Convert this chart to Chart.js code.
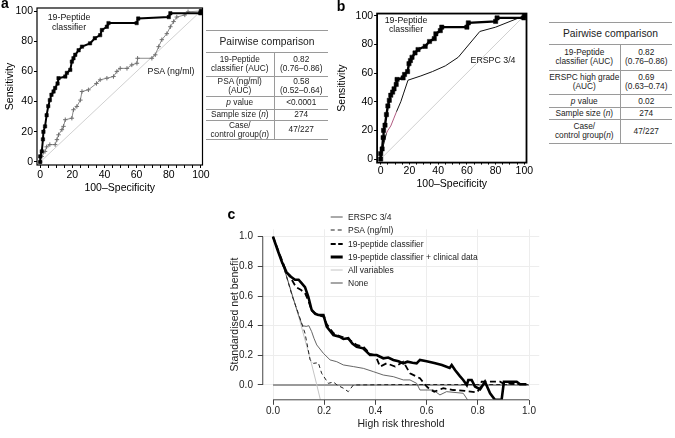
<!DOCTYPE html>
<html><head><meta charset="utf-8">
<script src="https://cdn.jsdelivr.net/npm/chart.js@4.4.1/dist/chart.umd.min.js"></script>
<style>
html,body{margin:0;padding:0;background:#fff;}
body{width:675px;height:438px;position:relative;overflow:hidden;font-family:'Liberation Sans',Arial,Helvetica,sans-serif;color:#111;}
canvas{position:absolute;}
.lbl{position:absolute;transform:translate(-50%,-50%);white-space:nowrap;text-align:center;}
.pl{position:absolute;transform:translate(-50%,-50%);font-weight:bold;font-size:14px;line-height:14px;color:#000;}
table.pw{position:absolute;border-collapse:collapse;table-layout:fixed;font-size:8.3px;line-height:9px;color:#222;}
table.pw td,table.pw th{padding:0;text-align:center;vertical-align:middle;white-space:nowrap;overflow:visible;border-top:1px solid #9a9a9a;border-bottom:1px solid #9a9a9a;}
table.pw th{font-weight:normal;font-size:10.3px;}
table.pw td:first-child{border-right:1px solid #9a9a9a;}
#legC{position:absolute;left:330px;top:210.7px;font-size:8.5px;color:#222;}
#legC div{height:13.15px;display:flex;align-items:center;white-space:nowrap;}
#legC svg{flex:none;}
#legC span{margin-left:4px;}
</style></head>
<body>
<canvas id="cA" width="212" height="195" style="left:0;top:0"></canvas>
<canvas id="cB" width="200" height="195" style="left:335px;top:0"></canvas>
<canvas id="cC" width="340" height="243" style="left:210px;top:195px"></canvas>

<div class="pl" style="left:5px;top:3px">a</div>
<div class="pl" style="left:341px;top:5.5px">b</div>
<div class="pl" style="left:231.5px;top:213.5px">c</div>

<div class="lbl" style="left:69px;top:21.7px;font-size:8.8px;line-height:10px">19-Peptide<br>classifier</div>
<div class="lbl" style="left:171px;top:71px;font-size:8.8px">PSA (ng/ml)</div>
<div class="lbl" style="left:406px;top:24.7px;font-size:8.8px;line-height:9.5px">19-Peptide<br>classifier</div>
<div class="lbl" style="left:493px;top:60px;font-size:8.8px">ERSPC 3/4</div>

<table class="pw" style="left:206px;top:30px;width:122px">
<colgroup><col style="width:68px"><col style="width:54px"></colgroup>
<tr style="height:22px"><th colspan="2">Pairwise comparison</th></tr>
<tr style="height:23.5px"><td>19-Peptide<br>classifier (AUC)</td><td>0.82<br>(0.76–0.86)</td></tr>
<tr style="height:20.8px"><td>PSA (ng/ml)<br>(AUC)</td><td>0.58<br>(0.52–0.64)</td></tr>
<tr style="height:12.4px"><td><i>p</i> value</td><td>&lt;0.0001</td></tr>
<tr style="height:11px"><td>Sample size (<i>n</i>)</td><td>274</td></tr>
<tr style="height:19px"><td>Case/<br>control group(<i>n</i>)</td><td>47/227</td></tr>
</table>

<table class="pw" style="left:549px;top:22px;width:123px">
<colgroup><col style="width:71px"><col style="width:52px"></colgroup>
<tr style="height:22.3px"><th colspan="2">Pairwise comparison</th></tr>
<tr style="height:25.3px"><td>19-Peptide<br>classifier (AUC)</td><td>0.82<br>(0.76–0.86)</td></tr>
<tr style="height:24.7px"><td>ERSPC high grade<br>(AUC)</td><td>0.69<br>(0.63–0.74)</td></tr>
<tr style="height:12.7px"><td><i>p</i> value</td><td>0.02</td></tr>
<tr style="height:11.6px"><td>Sample size (<i>n</i>)</td><td>274</td></tr>
<tr style="height:24px"><td>Case/<br>control group(<i>n</i>)</td><td>47/227</td></tr>
</table>

<div id="legC">
<div><svg width="14" height="6"><line x1="0.7" y1="3" x2="12.7" y2="3" stroke="#555" stroke-width="1"/></svg><span>ERSPC 3/4</span></div>
<div><svg width="14" height="6"><line x1="0.7" y1="3" x2="12.7" y2="3" stroke="#222" stroke-width="1.2" stroke-dasharray="4,3"/></svg><span>PSA (ng/ml)</span></div>
<div><svg width="14" height="6"><line x1="0.7" y1="3" x2="12.7" y2="3" stroke="#000" stroke-width="2.2" stroke-dasharray="5,2.5"/></svg><span>19-peptide classifier</span></div>
<div><svg width="14" height="6"><line x1="0.7" y1="3" x2="12.7" y2="3" stroke="#000" stroke-width="3"/></svg><span>19-peptide classifier + clinical data</span></div>
<div><svg width="14" height="6"><line x1="0.7" y1="3" x2="12.7" y2="3" stroke="#c4c4c4" stroke-width="1"/></svg><span>All variables</span></div>
<div><svg width="14" height="6"><line x1="0.7" y1="3" x2="12.7" y2="3" stroke="#888" stroke-width="1.5"/></svg><span>None</span></div>
</div>

<script>
const FONT = "'Liberation Sans', Arial, Helvetica, sans-serif";

// ---- Panels a & b: ROC curves, points are [100-specificity, sensitivity] ----
const peptideRoc = [[0,0],[0,3.7],[1,7],[1.7,15],[2,20],[3,23.6],[4,31],[5,37],[6,41],[7,44.5],[8.3,46.7],[9.3,49],[10.8,52],[11.4,55.5],[15.6,56.6],[16.6,59],[18.7,61],[19.7,66.5],[20.7,68.7],[21.8,71],[23.9,74],[26,76.4],[31,78.6],[34,82],[37.3,84],[38.4,87.4],[41.5,89.6],[42.5,92],[60,92],[61,95],[80,96],[81,98.5],[99.6,98.5],[100,100]];
const psaRoc = [[0,0],[1,3.7],[3,7],[4,10],[6,11.5],[9.3,11.5],[10.4,14.8],[11.4,18],[13.5,21.4],[14.5,23.6],[15.6,28],[19.7,29],[20.7,34.6],[22.8,36.8],[25,41],[26,46.7],[30,47.8],[35,52],[37.3,54.4],[41.5,55.5],[45.6,56.6],[47.7,60],[49.8,62],[54,62],[57,64.3],[60.2,65.4],[60.6,68.7],[69.5,68.7],[71.6,71],[73.7,76.4],[75.7,81],[78.8,85],[81,89.6],[83,93],[85,96],[90,97.4],[92,99.5],[100,100]];
const erspcRoc = [[0,0],[2,10],[4,18],[5,20],[7,23],[9,28],[11,33],[14,40],[16,46],[19,55],[28,58],[36,61],[45,65],[54,71],[69,89],[80,92],[100,100]];
const chanceLine = [[0,0],[100,100]];
const rocLabelTicks = [0,20,40,60,80,100];
const rocMinorTicks = [0,5,10,15,20,25,30,35,40,45,50,55,60,65,70,75,80,85,90,95,100];

// ---- Panel c: decision curves, points are [threshold, standardised net benefit] ----
const dcaPeptideClin = [[0,1.0],[0.02,0.9],[0.035,0.83],[0.053,0.76],[0.07,0.73],[0.086,0.71],[0.1,0.71],[0.11,0.69],[0.125,0.66],[0.138,0.595],[0.151,0.506],[0.165,0.48],[0.177,0.472],[0.197,0.472],[0.21,0.393],[0.236,0.337],[0.26,0.326],[0.275,0.31],[0.294,0.315],[0.31,0.28],[0.327,0.258],[0.352,0.247],[0.379,0.202],[0.405,0.202],[0.431,0.18],[0.45,0.185],[0.47,0.169],[0.49,0.16],[0.509,0.146],[0.525,0.157],[0.545,0.15],[0.561,0.146],[0.574,0.169],[0.6,0.16],[0.63,0.148],[0.66,0.135],[0.69,0.115],[0.698,0.135],[0.711,0.101],[0.73,0.06],[0.743,0.034],[0.757,0.0],[0.763,0.034],[0.776,0.034],[0.789,-0.011],[0.809,-0.029],[0.828,0.022],[0.848,-0.056],[0.867,-0.1],[0.893,-0.1],[0.902,0.022],[0.952,0.022],[0.965,0.005],[0.99,0.005]];
const dcaPeptide = [[0,1.0],[0.053,0.76],[0.07,0.72],[0.09,0.66],[0.11,0.64],[0.125,0.62],[0.138,0.57],[0.151,0.5],[0.177,0.47],[0.2,0.46],[0.21,0.41],[0.236,0.35],[0.26,0.33],[0.294,0.31],[0.327,0.27],[0.352,0.26],[0.379,0.21],[0.4,0.2],[0.418,0.124],[0.444,0.146],[0.477,0.124],[0.509,0.157],[0.535,0.079],[0.574,0.045],[0.6,-0.01],[0.613,-0.03],[0.63,-0.045],[0.665,-0.022],[0.704,-0.034],[0.75,-0.04],[0.796,-0.05],[0.81,-0.02],[0.815,0.022],[0.887,0.022],[0.9,0.01],[0.99,0.005]];
const dcaPsa = [[0,1.0],[0.051,0.742],[0.075,0.6],[0.099,0.483],[0.125,0.349],[0.145,0.169],[0.158,0.146],[0.177,0.15],[0.19,0.079],[0.216,0.011],[0.236,0.02],[0.25,0.0],[0.275,-0.022],[0.294,-0.045],[0.314,0.0],[0.5,0.003],[1.0,0.003]];
const dcaErspc = [[0,1.0],[0.05,0.75],[0.08,0.58],[0.1,0.47],[0.115,0.4],[0.13,0.395],[0.14,0.4],[0.151,0.36],[0.16,0.315],[0.171,0.27],[0.197,0.213],[0.223,0.169],[0.249,0.157],[0.275,0.135],[0.314,0.124],[0.353,0.112],[0.392,0.09],[0.431,0.067],[0.47,0.056],[0.509,0.034],[0.535,0.034],[0.561,0.011],[0.574,-0.034],[0.626,-0.034],[0.652,-0.067],[0.678,-0.045],[0.743,-0.056],[0.76,-0.1]];
const dcaAll = [[0,1.0],[0.05,0.746],[0.1,0.464],[0.15,0.146],[0.17,0.008],[0.185,-0.1]];
const dcaNone = [[0,0],[1,0]];
const dcaTicks = [0,0.2,0.4,0.6,0.8,1.0];

const toXY = arr => arr.map(([x, y]) => ({x, y}));

const framePlugin = {
  id: 'frame',
  afterDatasetsDraw(chart, args, opts) {
    const {ctx, chartArea: {left, top, right, bottom}} = chart;
    ctx.save();
    ctx.strokeStyle = '#000';
    ctx.lineWidth = opts.width || 1;
    ctx.strokeRect(left, top, right - left, bottom - top);
    ctx.restore();
  }
};

const axisLinePlugin = {
  id: 'axisLines',
  afterDraw(chart) {
    const {ctx, chartArea, scales: {x, y}} = chart;
    ctx.save();
    ctx.strokeStyle = '#444';
    ctx.lineWidth = 1;
    ctx.beginPath();
    ctx.moveTo(x.getPixelForValue(0), chartArea.bottom);
    ctx.lineTo(x.getPixelForValue(1), chartArea.bottom);
    ctx.moveTo(chartArea.left, y.getPixelForValue(0));
    ctx.lineTo(chartArea.left, y.getPixelForValue(1));
    ctx.stroke();
    ctx.restore();
  }
};

function rocChart(id, c) {
  return new Chart(document.getElementById(id), {
    type: 'line',
    data: {datasets: c.datasets},
    options: {
      responsive: false, animation: false, devicePixelRatio: 1,
      layout: {padding: c.padding},
      elements: {line: {tension: 0}},
      plugins: {legend: {display: false}, tooltip: {enabled: false}, frame: {width: c.frameWidth}},
      scales: {
        x: {
          type: 'linear', min: c.xMin, max: c.xMax,
          afterBuildTicks: s => { s.ticks = rocMinorTicks.map(v => ({value: v})); },
          afterFit: s => { s.height = c.xH; },
          ticks: {autoSkip: false, maxRotation: 0, padding: c.xPad, color: '#000', font: {family: FONT, size: 10.5},
                  callback: v => rocLabelTicks.includes(v) ? String(v) : ''},
          grid: {drawOnChartArea: false, drawTicks: true, tickLength: c.tick, color: '#000'},
          border: {display: false},
          title: {display: true, text: '100–Specificity', color: '#000', font: {family: FONT, size: 10.5}, padding: {top: 0, bottom: c.xTitlePad}}
        },
        y: {
          type: 'linear', min: c.yMin, max: c.yMax,
          afterBuildTicks: s => { s.ticks = rocLabelTicks.map(v => ({value: v})); },
          afterFit: s => { s.width = c.yW; },
          ticks: {autoSkip: false, padding: c.yPad, color: '#000', font: {family: FONT, size: 10.5}},
          grid: {drawOnChartArea: false, drawTicks: true, tickLength: 3, color: '#000'},
          border: {display: false},
          title: {display: true, text: 'Sensitivity', color: '#000', font: {family: FONT, size: 10.5}, padding: {top: c.yTitlePad, bottom: 0}}
        }
      }
    },
    plugins: [framePlugin]
  });
}

rocChart('cA', {
  padding: {left: 0, top: 8, right: 9.5, bottom: 0},
  xMin: -2, xMax: 101, yMin: -2, yMax: 102, xH: 30, yW: 37,
  xPad: 1, yPad: 1, tick: 3, xTitlePad: 1, yTitlePad: 4, frameWidth: 1.2,
  datasets: [
    {data: toXY(peptideRoc), borderColor: '#000', borderWidth: 2, pointStyle: 'rect', pointRadius: 2.4,
     pointBackgroundColor: '#000', pointBorderColor: '#000', pointBorderWidth: 0.5},
    {data: toXY(psaRoc), borderColor: '#8a8a8a', borderWidth: 1, pointStyle: 'cross', pointRadius: 2.2,
     pointBorderColor: '#707070', pointBorderWidth: 1},
    {data: toXY(chanceLine), borderColor: '#c4c4c4', borderWidth: 0.8, pointRadius: 0}
  ]
});

rocChart('cB', {
  padding: {left: 0, top: 13.55, right: 8.5, bottom: 0},
  xMin: -2.5, xMax: 101.5, yMin: -2.5, yMax: 101.5, xH: 32.4, yW: 42.1,
  xPad: 0, yPad: 1, tick: 2, xTitlePad: 4.7, yTitlePad: 0.5, frameWidth: 1.8,
  datasets: [
    {data: toXY(peptideRoc), borderColor: '#000', borderWidth: 2.4, pointStyle: 'rect', pointRadius: 3,
     pointBackgroundColor: '#000', pointBorderColor: '#000', pointBorderWidth: 0.5},
    {data: toXY(erspcRoc), borderColor: '#111', borderWidth: 1, pointRadius: 0,
     segment: {borderColor: ctx => (ctx.p0.parsed.x >= 4 && ctx.p1.parsed.x <= 12) ? '#b05a80' : undefined}},
    {data: toXY(chanceLine), borderColor: '#c4c4c4', borderWidth: 0.8, pointRadius: 0}
  ]
});

new Chart(document.getElementById('cC'), {
  type: 'line',
  data: {datasets: [
    {data: toXY(dcaPeptideClin), borderColor: '#000', borderWidth: 2.6, pointRadius: 0},
    {data: toXY(dcaPeptide), borderColor: '#000', borderWidth: 1.8, borderDash: [6, 3.5], pointRadius: 0},
    {data: toXY(dcaPsa), borderColor: '#222', borderWidth: 1, borderDash: [4, 3], pointRadius: 0},
    {data: toXY(dcaErspc), borderColor: '#555', borderWidth: 0.9, pointRadius: 0},
    {data: toXY(dcaAll), borderColor: '#c4c4c4', borderWidth: 1, pointRadius: 0},
    {data: toXY(dcaNone), borderColor: '#9a9a9a', borderWidth: 2, pointRadius: 0}
  ]},
  options: {
    responsive: false, animation: false, devicePixelRatio: 1,
    layout: {padding: {left: 0, top: 34.3, right: 10.76, bottom: 0}},
    elements: {line: {tension: 0}},
    plugins: {legend: {display: false}, tooltip: {enabled: false}},
    scales: {
      x: {
        type: 'linear', min: -0.04, max: 1.04,
        afterBuildTicks: s => { s.ticks = dcaTicks.map(v => ({value: v})); },
        afterFit: s => { s.height = 38.2; },
        ticks: {autoSkip: false, maxRotation: 0, padding: 0, color: '#222', font: {family: FONT, size: 10},
                callback: v => v.toFixed(1)},
        grid: {color: '#ededed', tickColor: '#444', tickLength: 5},
        border: {display: false},
        title: {display: true, text: 'High risk threshold', color: '#222', font: {family: FONT, size: 10.5}, padding: {top: 0, bottom: 7.5}}
      },
      y: {
        type: 'linear', min: -0.1, max: 1.05,
        afterBuildTicks: s => { s.ticks = dcaTicks.map(v => ({value: v})); },
        afterFit: s => { s.width = 52.76; },
        ticks: {autoSkip: false, padding: 4.8, color: '#222', font: {family: FONT, size: 10},
                callback: v => v.toFixed(1)},
        grid: {color: '#ededed', tickColor: '#444', tickLength: 5},
        border: {display: false},
        title: {display: true, text: 'Standardised net benefit', color: '#222', font: {family: FONT, size: 10.5}, padding: {top: 18.7, bottom: 0}}
      }
    }
  },
  plugins: [axisLinePlugin]
});
</script>
</body></html>
